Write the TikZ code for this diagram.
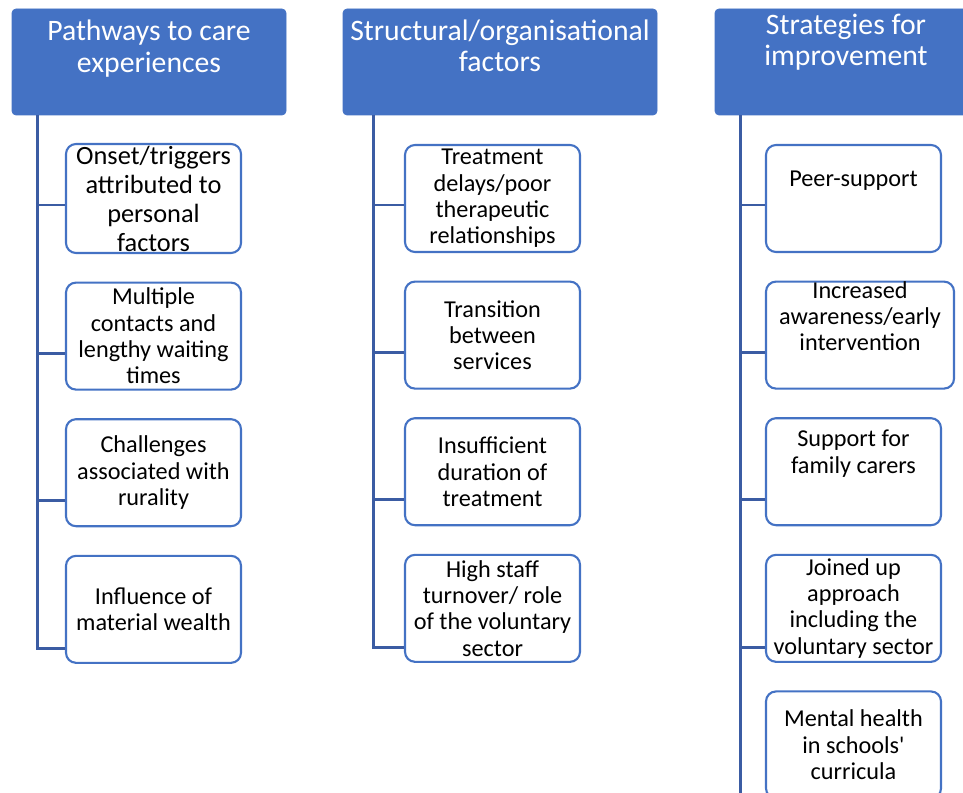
\documentclass[tikz,border=0pt]{standalone}
\usepackage{fontspec}
\setmainfont{Carlito}
\usetikzlibrary{positioning}
\definecolor{hdrblue}{HTML}{4472C4}
\definecolor{linkblue}{HTML}{3B5CA3}

\begin{document}
\begin{tikzpicture}[node distance=0.55cm, every node/.style={font=\fontsize{13.8}{15}\selectfont}]
  % header, item and connector styles
  \tikzset{header/.style={draw=hdrblue, fill=hdrblue, rounded corners=0.08cm, minimum height=2.12cm},
           htext/.style={text=white, align=center, font=\fontsize{16.9}{17.8}\selectfont},
           item/.style={draw=hdrblue, line width=1.2pt, fill=white, rounded corners=0.2cm, minimum width=3.5cm, minimum height=2.14cm, align=center, inner sep=1pt},
           link/.style={draw=linkblue, line width=1.7pt}}
  % fixed frame: the right header and the last box run off the edge
  \clip (0,0) rectangle (19.26,-15.86);

  % headers, their text sits above the middle
  \node[header, minimum width=5.48cm, label={[htext, yshift=0.27cm]center:Pathways to care\\experiences}] (hpath) at (2.98,-1.24) {};
  \node[header, minimum width=6.28cm, label={[htext, yshift=0.33cm]center:Structural/organisational\\factors}] (hstruct) at (10.0,-1.24) {};
  \node[header, minimum width=5.24cm, label={[htext, yshift=0.4cm]center:Strategies for\\improvement}] (hstrat) at (16.92,-1.24) {};

  % first column
  \node[item, font=\fontsize{15}{16.5}\selectfont] (a1) at (3.07,-3.97) {Onset/triggers\\attributed to\\personal\\factors};
  \node[item, below=of a1] (a2) {Multiple\\contacts and\\lengthy waiting\\times};
  \node[item, below=of a2] (a3) {Challenges\\associated with\\rurality};
  \node[item, below=of a3] (a4) {Influence of\\material wealth};

  % second column
  \node[item] (b1) at (9.85,-3.97) {Treatment\\delays/poor\\therapeutic\\relationships};
  \node[item, below=of b1] (b2) {Transition\\between\\services};
  \node[item, below=of b2] (b3) {Insufficient\\duration of\\treatment};
  \node[item, below=of b3] (b4) {High staff\\turnover/ role\\of the voluntary\\sector};

  % third column, text of the upper boxes sits high
  \node[item, label={[align=center, yshift=0.36cm]center:Peer-support}] (c1) at (17.07,-3.97) {};
  \node[item, below=of c1, minimum width=3.76cm, xshift=0.13cm, label={[align=center, yshift=0.38cm]center:Increased\\awareness/early\\intervention}] (c2) {};
  \node[item, below=of c2, xshift=-0.13cm, label={[align=center, yshift=0.36cm]center:Support for\\family carers}] (c3) {};
  \node[item, below=of c3] (c4) {Joined up\\approach\\including the\\voluntary sector};
  \node[item, below=of c4] (c5) {Mental health\\in schools\textquotesingle\\curricula};

  % trunks start under each header
  \coordinate (ta) at ([xshift=0.52cm]hpath.south west);
  \coordinate (tb) at ([xshift=0.62cm]hstruct.south west);
  \coordinate (tc) at ([xshift=0.52cm]hstrat.south west);

  % elbows from the trunks to the boxes
  \draw[link] (ta) |- ([yshift=-0.13cm]a1.west);
  \draw[link] (ta) |- ([yshift=-0.34cm]a2.west);
  \draw[link] (ta) |- ([yshift=-0.55cm]a3.west);
  \draw[link] (ta) |- ([yshift=-0.78cm]a4.west);
  \draw[link] (tb) |- ([yshift=-0.13cm]b1.west);
  \draw[link] (tb) |- ([yshift=-0.34cm]b2.west);
  \draw[link] (tb) |- ([yshift=-0.55cm]b3.west);
  \draw[link] (tb) |- ([yshift=-0.78cm]b4.west);
  \draw[link] (tc) |- ([yshift=-0.13cm]c1.west);
  \draw[link] (tc) |- ([yshift=-0.34cm]c2.west);
  \draw[link] (tc) |- ([yshift=-0.55cm]c3.west);
  \draw[link] (tc) |- ([yshift=-0.78cm]c4.west);
  \draw[link] (tc) |- ([yshift=-1.05cm]c5.west);
\end{tikzpicture}
\end{document}
